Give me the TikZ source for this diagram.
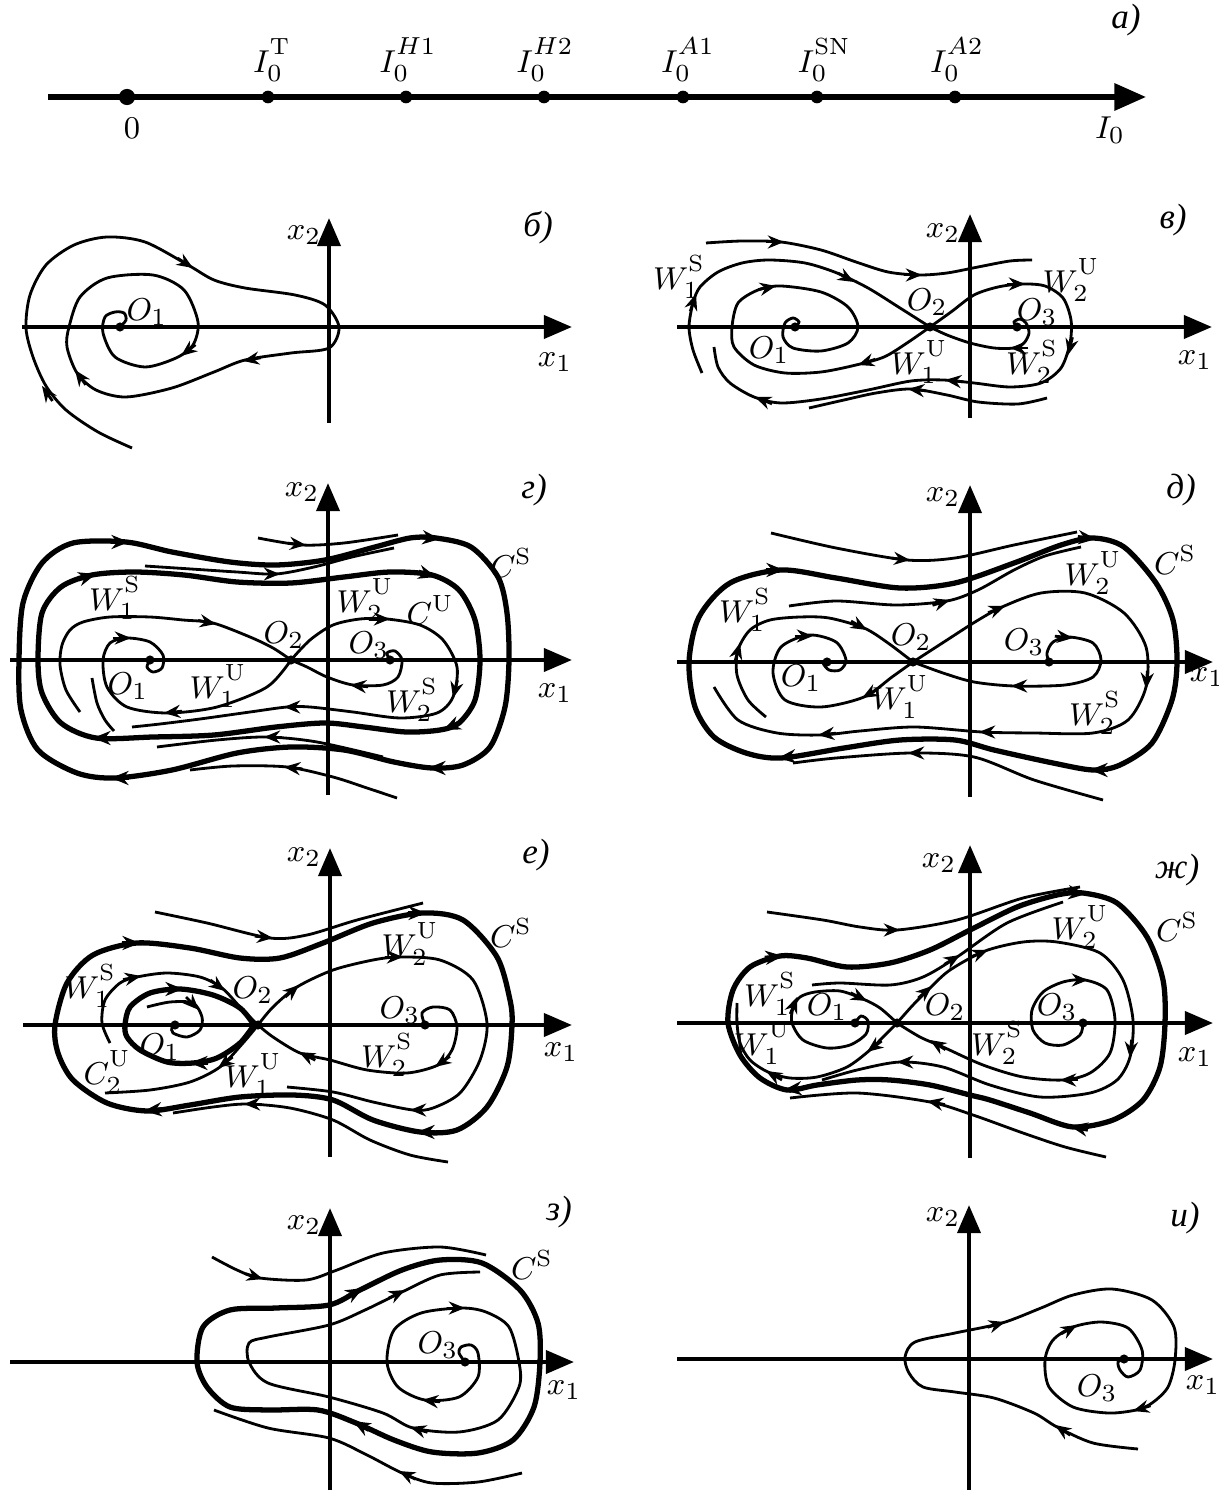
\documentclass[tikz,border=0pt]{standalone}
\usepackage{fontspec}
\newfontfamily\cyrit{Liberation Serif}
\usetikzlibrary{arrows.meta,calc}
\tikzset{
  axisln/.style={line width=1.25pt, -{Triangle[length=8pt,width=6.5pt]}},
  traj/.style={line width=0.8pt},
  limc/.style={line width=1.5pt},
  flowtip/.style={line width=0.8pt, -{Stealth[length=4.6pt,width=3.7pt]}},
  flowtipc/.style={line width=1.2pt, -{Stealth[length=5pt,width=4pt]}},
  eqpt/.style={circle, fill, inner sep=0pt, minimum size=2.6pt},
  lbl/.style={font=\fontsize{9.5}{11}\selectfont, inner sep=0.5pt},
  plbl/.style={font=\cyrit\itshape\fontsize{10}{12}\selectfont, inner sep=0.5pt},
}
% scripts set a little apart, arrow head placed on a curve
\newcommand{\ssup}[1]{\raise1.2pt\hbox{$\scriptstyle #1$}}
\newcommand{\ssub}[1]{\lower1pt\hbox{$\scriptstyle #1$}}
\newcommand{\flowat}[3][flowtip]{\draw[#1] ($(#3)!5.2pt!(#2)$) -- (#3);}
\begin{document}
\begin{tikzpicture}[x=0.01cm, y=-0.01cm]
\useasboundingbox (0,0) rectangle (1218,1492);

% Panel a: parameter axis
\draw[axisln, line width=1.5pt, -{Triangle[length=9pt,width=7.5pt]}] (48,97) -- (1146,97);
\node[eqpt, minimum size=4.6pt] (p0) at (127,97) {};
\foreach \x/\nm in {268/pT, 406/pHa, 544/pHb, 683/pAa, 817/pSN, 955/pAb}
  \node[eqpt, minimum size=3.6pt] (\nm) at (\x,97) {};
\node[lbl, anchor=south] (lT) at (272,84) {$I_{\ssub{0}}^{\ssup{\mathrm{T}}}$};
\node[lbl, anchor=south] (lHa) at (408,84) {$I_{\ssub{0}}^{\ssup{H1}}$};
\node[lbl, anchor=south] (lHb) at (545,84) {$I_{\ssub{0}}^{\ssup{H2}}$};
\node[lbl, anchor=south] (lAa) at (688,84) {$I_{\ssub{0}}^{\ssup{A1}}$};
\node[lbl, anchor=south] (lSN) at (824,84) {$I_{\ssub{0}}^{\ssup{\mathrm{SN}}}$};
\node[lbl, anchor=south] (lAb) at (957,84) {$I_{\ssub{0}}^{\ssup{A2}}$};
\node[lbl] (l0) at (132,128) {$0$};
\node[lbl] (lI) at (1110,130) {$I_0$};
\node[plbl] (la) at (1126,20) {а)};

% Panel b: single stable focus
\draw[axisln] (22,327) -- (572,327);
\draw[axisln] (329,423) -- (329,218);
\draw[traj] plot[smooth] coordinates {(132,448) (98,432) (66,410) (46,386) (33,357) (26,328) (30,295) (46,265) (74,245) (107,237) (145,242) (188,265) (214,280) (245,288) (295,295) (325,305) (339,327) (329,348) (291,353) (245,360) (214,372) (172,388) (126,397) (96,390) (77,373) (67,347) (69,327) (80,297) (107,278) (153,275) (184,290) (198,322) (193,345) (176,358) (145,367) (115,357) (103,333) (105,317) (115,312) (124,313) (126,320) (120,327)};
\flowat{49,396}{42,386}
\flowat{182,261}{193,268}
\flowat{254,359}{243,361}
\flowat{190,349}{181,356}
\flowat{83,381}{75,370}
\node[eqpt] (bO1) at (120,327) {};
\node[lbl] (bx2) at (304,235) {$x_2$};
\node[lbl] (bx1) at (555,362) {$x_1$};
\node[plbl] (bl) at (538,228) {б)};
\node[lbl] (bO1l) at (147,312) {$O_1$};

% Panel v: saddle O2 between two foci
\draw[axisln] (677,327) -- (1212,327);
\draw[axisln] (970,418) -- (970,214);
\draw[traj] plot[smooth] coordinates {(706,243) (742,241) (781,242) (821,250) (856,262) (888,272) (919,275) (947,273) (978,267) (1010,261) (1032,260)};
\draw[traj] plot[smooth] coordinates {(702,373) (693,350) (689,327) (693,303) (700,287) (718,272) (742,263) (769,260) (805,263) (837,273) (868,288) (900,308) (930,327)};
\draw[traj] plot[smooth] coordinates {(930,327) (907,343) (884,357) (856,365) (821,372) (785,373) (754,365) (734,347) (732,327) (738,303) (758,290) (781,286) (821,292) (848,307) (858,327) (848,343) (821,351) (793,348) (783,337) (785,323) (793,318) (799,322) (795,327)};
\draw[traj] plot[smooth] coordinates {(930,327) (951,312) (974,295) (998,287) (1022,284) (1045,286) (1063,298) (1071,320) (1070,343) (1061,368) (1041,383) (1010,387) (974,383) (943,380) (911,381) (868,390) (821,399) (781,403) (754,397) (730,383) (718,367) (714,347)};
\draw[traj] plot[smooth] coordinates {(1047,398) (1018,404) (978,402) (947,395) (911,389) (876,393) (844,400) (809,408)};
\draw[traj] plot[smooth] coordinates {(1017,327) (1014,322) (1020,319) (1026,323) (1029,333) (1024,343) (1014,348) (994,348) (970,343) (947,335) (930,327)};
\flowat{774,242}{784,242}
\flowat{912,275}{922,275}
\flowat{692,306}{696,294}
\flowat{845,277}{854,282}
\flowat{867,362}{858,365}
\flowat{766,288}{776,286}
\flowat{1015,284}{1025,284}
\flowat{1071,343}{1068,355}
\flowat{955,381}{945,380}
\flowat{765,401}{755,397}
\flowat{918,390}{908,389}
\flowat{1020,348}{1010,348}
\node[eqpt] (vO1) at (795,327) {};
\node[eqpt] (vO2) at (930,327) {};
\node[eqpt] (vO3) at (1017,327) {};
\node[lbl] (vx2) at (943,233) {$x_2$};
\node[lbl] (vx1) at (1195,360) {$x_1$};
\node[plbl] (vl) at (1173,220) {в)};
\node[lbl] (vW1S) at (679,277) {$W_{\ssub{1}}^{\ssup{\mathrm{S}}}$};
\node[lbl] (vW2U) at (1071,280) {$W_{\ssub{2}}^{\ssup{\mathrm{U}}}$};
\node[lbl] (vO2l) at (927,302) {$O_2$};
\node[lbl] (vO3l) at (1037,312) {$O_3$};
\node[lbl] (vO1l) at (769,350) {$O_1$};
\node[lbl] (vW1U) at (919,362) {$W_{\ssub{1}}^{\ssup{\mathrm{U}}}$};
\node[lbl] (vW2S) at (1032,362) {$W_{\ssub{2}}^{\ssup{\mathrm{S}}}$};

% Panel g: two limit cycles around the figure eight
\draw[axisln] (10,660) -- (572,660);
\draw[axisln] (328,795) -- (328,483);
\draw[limc] plot[smooth cycle] coordinates {(19,660) (23,603) (42,563) (73,543) (126,542) (172,552) (230,562) (276,565) (325,560) (375,547) (410,538) (436,538) (471,547) (498,577) (507,613) (509,660) (505,707) (490,747) (463,765) (432,768) (394,762) (344,750) (291,747) (237,753) (172,770) (115,778) (77,773) (38,750) (21,710)};
\draw[limc] plot[smooth cycle] coordinates {(38,660) (42,613) (61,587) (92,575) (134,572) (184,575) (237,582) (291,583) (344,577) (390,572) (432,575) (459,590) (475,620) (480,660) (475,700) (459,723) (440,730) (406,732) (364,727) (325,723) (276,727) (214,735) (153,737) (96,738) (61,723) (42,693)};
\draw[traj] plot[smooth] coordinates {(258,538) (302,545) (344,543) (398,535)};
\draw[traj] plot[smooth] coordinates {(145,566) (191,569) (237,572) (276,574) (314,567) (352,557) (394,548)};
\draw[traj] plot[smooth] coordinates {(157,747) (217,740) (267,737) (317,742) (383,757)};
\draw[traj] plot[smooth] coordinates {(190,770) (233,766) (287,767) (333,777) (367,788) (397,798)};
\draw[traj] plot[smooth] coordinates {(80,712) (66,690) (60,665) (62,645) (70,630) (83,622) (110,617) (150,617) (183,620) (213,623) (250,637) (273,648) (291,660)};
\draw[traj] plot[smooth] coordinates {(291,660) (310,640) (333,625) (360,619) (387,619) (420,625) (443,640) (457,667) (453,697) (437,713) (400,718) (353,712) (310,707) (287,707) (250,712) (200,719) (160,724) (132,727)};
\draw[traj] plot[smooth] coordinates {(92,678) (97,703) (105,720) (114,731)};
\draw[traj] plot[smooth] coordinates {(291,660) (267,687) (217,707) (167,713) (127,707) (107,687) (103,660) (110,643) (127,638) (150,642) (163,655) (162,668) (153,672) (147,667) (150,660)};
\draw[traj] plot[smooth] coordinates {(390,660) (387,653) (395,651) (402,660) (398,677) (383,685) (353,685) (327,677) (307,667) (291,660)};
\flowat[flowtipc]{119,542}{129,542}
\flowat[flowtipc]{430,538}{440,539}
\flowat[flowtipc]{438,768}{428,768}
\flowat[flowtipc]{121,778}{111,778}
\flowat[flowtipc]{86,577}{96,574}
\flowat[flowtipc]{426,574}{436,577}
\flowat[flowtipc]{452,726}{443,730}
\flowat[flowtipc]{103,738}{93,738}
\flowat{296,544}{306,545}
\flowat{270,574}{280,574}
\flowat{274,737}{264,737}
\flowat{294,768}{284,767}
\flowat{206,622}{216,624}
\flowat{380,619}{390,619}
\flowat{456,686}{453,698}
\flowat{294,707}{284,707}
\flowat{174,712}{164,713}
\flowat{123,638}{131,638}
\flowat{360,686}{350,685}
\node[eqpt] (gO1) at (150,660) {};
\node[eqpt] (gO2) at (291,660) {};
\node[eqpt] (gO3) at (390,660) {};
\node[lbl] (gx2) at (302,492) {$x_2$};
\node[lbl] (gx1) at (555,693) {$x_1$};
\node[plbl] (gl) at (534,490) {г)};
\node[lbl] (gCS) at (511,563) {$C^{\mathrm{S}}$};
\node[lbl] (gCU) at (430,610) {$C^{\mathrm{U}}$};
\node[lbl] (gW1S) at (115,598) {$W_{\ssub{1}}^{\ssup{\mathrm{S}}}$};
\node[lbl] (gW2U) at (365,600) {$W_{\ssub{2}}^{\ssup{\mathrm{U}}}$};
\node[lbl] (gO2l) at (284,635) {$O_2$};
\node[lbl] (gO3l) at (369,645) {$O_3$};
\node[lbl] (gO1l) at (128,686) {$O_1$};
\node[lbl] (gW1U) at (218,686) {$W_{\ssub{1}}^{\ssup{\mathrm{U}}}$};
\node[lbl] (gW2S) at (412,700) {$W_{\ssub{2}}^{\ssup{\mathrm{S}}}$};

% Panel d: outer cycle only
\draw[axisln] (677,662) -- (1213,662);
\draw[axisln] (970,797) -- (970,485);
\draw[limc] plot[smooth cycle] coordinates {(689,662) (699,617) (730,583) (781,570) (836,578) (900,588) (955,583) (1014,563) (1061,545) (1093,538) (1124,547) (1156,583) (1173,620) (1177,662) (1172,700) (1152,743) (1120,765) (1093,770) (1053,763) (994,750) (955,740) (900,740) (844,748) (781,758) (746,753) (714,737) (695,707)};
\draw[traj] plot[smooth] coordinates {(771,533) (836,548) (907,560) (955,558) (1014,545) (1077,532)};
\draw[traj] plot[smooth] coordinates {(789,606) (836,601) (896,605) (947,601) (978,590) (1014,570) (1045,556) (1081,547)};
\draw[traj] plot[smooth] coordinates {(766,717) (748,700) (737,675) (738,650) (750,630) (770,620) (800,617) (829,618) (864,628) (888,643) (913,662)};
\draw[traj] plot[smooth] coordinates {(913,662) (892,677) (864,697) (821,707) (785,700) (773,673) (781,647) (809,635) (836,642) (846,660) (840,670) (829,670) (823,663) (827,662)};
\draw[traj] plot[smooth] coordinates {(1049,662) (1047,653) (1053,642) (1069,637) (1093,643) (1101,660) (1093,677) (1065,685) (1014,686) (974,682) (943,673) (913,662)};
\draw[traj] plot[smooth] coordinates {(913,662) (947,640) (975,622) (1002,607) (1041,593) (1085,593) (1124,613) (1146,647) (1146,687) (1128,720) (1093,733) (1034,733) (982,732) (915,727) (860,731) (821,735) (777,733) (738,720) (714,687)};
\draw[traj] plot[smooth] coordinates {(793,763) (836,758) (911,753) (974,757) (1034,780) (1103,800)};
\flowat[flowtipc]{774,570}{784,570}
\flowat[flowtipc]{1086,538}{1096,539}
\flowat[flowtipc]{1100,770}{1090,770}
\flowat[flowtipc]{788,757}{778,758}
\flowat{900,559}{910,560}
\flowat{940,603}{950,600}
\flowat{737,654}{740,643}
\flowat{858,625}{867,630}
\flowat{871,693}{862,698}
\flowat{803,636}{813,636}
\flowat{1063,637}{1073,638}
\flowat{1021,686}{1011,686}
\flowat{995,610}{1005,606}
\flowat{1147,676}{1146,689}
\flowat{989,732}{979,732}
\flowat{828,734}{818,735}
\flowat{918,753}{908,753}
\node[eqpt] (dO1) at (827,662) {};
\node[eqpt] (dO2) at (913,662) {};
\node[eqpt] (dO3) at (1049,662) {};
\node[lbl] (dx2) at (943,497) {$x_2$};
\node[lbl] (dx1) at (1207,677) {$x_1$};
\node[plbl] (dl) at (1181,490) {д)};
\node[lbl] (dCS) at (1175,560) {$C^{\mathrm{S}}$};
\node[lbl] (dW2U) at (1093,573) {$W_{\ssub{2}}^{\ssup{\mathrm{U}}}$};
\node[lbl] (dW1S) at (745,610) {$W_{\ssub{1}}^{\ssup{\mathrm{S}}}$};
\node[lbl] (dO2l) at (911,637) {$O_2$};
\node[lbl] (dO3l) at (1024,642) {$O_3$};
\node[lbl] (dO1l) at (801,678) {$O_1$};
\node[lbl] (dW1U) at (900,697) {$W_{\ssub{1}}^{\ssup{\mathrm{U}}}$};
\node[lbl] (dW2S) at (1095,713) {$W_{\ssub{2}}^{\ssup{\mathrm{S}}}$};

% Panel e: unstable cycle round O1
\draw[axisln] (23,1025) -- (572,1025);
\draw[axisln] (330,1157) -- (330,848);
\draw[limc] plot[smooth cycle] coordinates {(55,1025) (67,983) (93,955) (137,943) (190,948) (240,958) (280,958) (323,943) (373,923) (423,913) (463,920) (497,957) (510,1000) (512,1025) (507,1067) (487,1107) (457,1130) (420,1132) (373,1120) (333,1100) (293,1095) (240,1097) (190,1105) (147,1111) (107,1103) (73,1080) (58,1053)};
\draw[limc] plot[smooth] coordinates {(254,1025) (240,1043) (217,1058) (193,1063) (167,1062) (140,1050) (127,1037) (125,1025) (130,1007) (150,993) (180,989) (213,995) (240,1008) (254,1025)};
\draw[traj] plot[smooth] coordinates {(155,912) (207,923) (270,938) (307,935) (357,920) (423,903)};
\draw[traj] plot[smooth] coordinates {(147,1007) (170,1002) (193,1003) (202,1017) (200,1030) (187,1037) (173,1033) (172,1027) (175,1025)};
\draw[traj] plot[smooth] coordinates {(110,1043) (102,1023) (105,1000) (120,983) (137,977) (167,973) (200,977) (222,988) (240,1007) (258,1025)};
\draw[traj] plot[smooth] coordinates {(258,1025) (243,1043) (220,1067) (190,1082) (150,1090) (105,1093)};
\draw[traj] plot[smooth] coordinates {(258,1025) (273,1007) (297,987) (333,970) (373,960) (400,957) (440,960) (473,980) (487,1023) (480,1060) (460,1093) (433,1108) (413,1110) (373,1102) (333,1092) (287,1087)};
\draw[traj] plot[smooth] coordinates {(425,1025) (422,1013) (433,1007) (450,1010) (457,1027) (452,1050) (438,1065) (407,1073) (367,1070) (330,1060) (300,1053) (273,1037) (258,1025)};
\draw[traj] plot[smooth] coordinates {(173,1113) (213,1107) (247,1104) (290,1108) (333,1120) (370,1140) (410,1155) (448,1162)};
\flowat[flowtipc]{130,943}{140,943}
\flowat[flowtipc]{416,913}{426,913}
\flowat[flowtipc]{427,1132}{417,1132}
\flowat[flowtipc]{154,1110}{144,1111}
\flowat[flowtipc]{173,989}{183,989}
\flowat[flowtipc]{200,1063}{190,1063}
\flowat{263,937}{273,938}
\flowat{191,1002}{199,1010}
\flowat{131,978}{141,976}
\flowat{217,985}{225,991}
\flowat{226,1062}{218,1068}
\flowat{291,992}{299,985}
\flowat{393,957}{403,957}
\flowat{420,1110}{410,1110}
\flowat{442,1062}{435,1067}
\flowat{307,1056}{299,1052}
\flowat{254,1104}{244,1104}
\node[eqpt] (eO1) at (175,1025) {};
\node[eqpt] (eO2) at (258,1025) {};
\node[eqpt] (eO3) at (425,1025) {};
\node[lbl] (ex2) at (304,857) {$x_2$};
\node[lbl] (ex1) at (561,1052) {$x_1$};
\node[plbl] (el) at (536,855) {е)};
\node[lbl] (eCS) at (511,933) {$C^{\mathrm{S}}$};
\node[lbl] (eW2U) at (410,944) {$W_{\ssub{2}}^{\ssup{\mathrm{U}}}$};
\node[lbl] (eW1S) at (90,986) {$W_{\ssub{1}}^{\ssup{\mathrm{S}}}$};
\node[lbl] (eO2l) at (253,990) {$O_2$};
\node[lbl] (eO3l) at (400,1010) {$O_3$};
\node[lbl] (eO1l) at (160,1047) {$O_1$};
\node[lbl] (eC2U) at (107,1072) {$C_{\ssub{2}}^{\ssup{\mathrm{U}}}$};
\node[lbl] (eW1U) at (253,1075) {$W_{\ssub{1}}^{\ssup{\mathrm{U}}}$};
\node[lbl] (eW2S) at (387,1055) {$W_{\ssub{2}}^{\ssup{\mathrm{S}}}$};

% Panel zh: O1 unstable, saddle loop gone
\draw[axisln] (677,1023) -- (1213,1023);
\draw[axisln] (970,1158) -- (970,845);
\draw[limc] plot[smooth cycle] coordinates {(728,1023) (733,990) (750,967) (780,956) (807,958) (847,967) (890,963) (930,950) (970,930) (1017,907) (1057,895) (1083,893) (1117,903) (1147,937) (1163,980) (1165,1023) (1160,1067) (1143,1100) (1113,1120) (1073,1127) (1030,1113) (990,1100) (970,1095) (930,1085) (890,1080) (857,1080) (817,1085) (787,1090) (760,1078) (740,1055)};
\draw[traj] plot[smooth] coordinates {(767,912) (823,920) (860,927) (897,930) (957,920) (1023,898) (1080,887)};
\draw[traj] plot[smooth] coordinates {(812,985) (840,983) (890,985) (923,977) (957,957) (1007,923) (1063,902)};
\draw[traj] plot[smooth] coordinates {(855,1023) (861,1016) (868,1021) (866,1034) (850,1045) (827,1048) (803,1040) (792,1023) (793,1008) (800,997) (815,992) (840,991) (863,999) (880,1008) (897,1023)};
\draw[traj] plot[smooth] coordinates {(897,1023) (883,1037) (870,1050) (847,1067) (817,1077) (790,1078) (768,1072) (750,1060) (740,1043) (737,1023) (737,1003)};
\draw[traj] plot[smooth] coordinates {(897,1023) (913,1005) (930,988) (950,970) (985,951) (1023,942) (1057,942) (1100,953) (1123,980) (1133,1020) (1130,1057) (1117,1080) (1090,1093) (1040,1097) (990,1085) (943,1067) (900,1062) (857,1070) (822,1080)};
\draw[traj] plot[smooth] coordinates {(1083,1023) (1080,1035) (1063,1045) (1045,1043) (1033,1030) (1032,1010) (1043,992) (1063,982) (1085,980) (1107,990) (1115,1020) (1110,1053) (1090,1073) (1063,1080) (1023,1077) (983,1065) (943,1047) (920,1037) (897,1023)};
\draw[traj] plot[smooth] coordinates {(790,1098) (857,1093) (930,1102) (973,1115) (1023,1133) (1065,1147) (1106,1157)};
\flowat[flowtipc]{773,957}{783,956}
\flowat[flowtipc]{1076,893}{1086,894}
\flowat[flowtipc]{1080,1128}{1070,1126}
\flowat[flowtipc]{794,1089}{784,1090}
\flowat{890,930}{900,930}
\flowat{950,961}{960,955}
\flowat{793,1007}{797,997}
\flowat{859,997}{867,1001}
\flowat{875,1046}{867,1052}
\flowat{775,1076}{766,1071}
\flowat{924,993}{932,986}
\flowat{978,954}{988,950}
\flowat{1131,1046}{1130,1058}
\flowat{907,1062}{897,1062}
\flowat{1078,980}{1088,980}
\flowat{1070,1080}{1060,1080}
\flowat{938,1045}{930,1040}
\flowat{937,1103}{927,1101}
\node[eqpt] (zO1) at (855,1023) {};
\node[eqpt] (zO2) at (897,1023) {};
\node[eqpt] (zO3) at (1083,1023) {};
\node[lbl] (zx2) at (939,863) {$x_2$};
\node[lbl] (zx1) at (1195,1057) {$x_1$};
\node[plbl] (zl) at (1177,870) {ж)};
\node[lbl] (zCS) at (1177,927) {$C^{\mathrm{S}}$};
\node[lbl] (zW2U) at (1080,927) {$W_{\ssub{2}}^{\ssup{\mathrm{U}}}$};
\node[lbl] (zW1S) at (770,994) {$W_{\ssub{1}}^{\ssup{\mathrm{S}}}$};
\node[lbl] (zO1l) at (827,1007) {$O_1$};
\node[lbl] (zO2l) at (945,1007) {$O_2$};
\node[lbl] (zO3l) at (1057,1007) {$O_3$};
\node[lbl] (zW1U) at (762,1043) {$W_{\ssub{1}}^{\ssup{\mathrm{U}}}$};
\node[lbl] (zW2S) at (997,1043) {$W_{\ssub{2}}^{\ssup{\mathrm{S}}}$};

% Panel z: O3 unstable inside stable cycle
\draw[axisln] (10,1362) -- (574,1362);
\draw[axisln] (330,1490) -- (330,1208);
\draw[limc] plot[smooth cycle] coordinates {(197,1362) (203,1327) (230,1310) (276,1308) (329,1305) (360,1290) (402,1270) (440,1260) (482,1263) (520,1290) (538,1323) (540,1362) (534,1407) (513,1440) (478,1453) (432,1452) (394,1440) (356,1423) (318,1410) (268,1410) (230,1407) (207,1387)};
\draw[traj] plot[smooth] coordinates {(212,1257) (237,1270) (260,1278) (306,1280) (337,1270) (383,1253) (440,1247) (486,1255)};
\draw[traj] plot[smooth] coordinates {(465,1362) (459,1353) (461,1347) (471,1345) (478,1353) (478,1377) (459,1397) (425,1400) (398,1387) (387,1362) (394,1330) (421,1313) (461,1308) (486,1312) (509,1327) (519,1362) (519,1387) (498,1420) (459,1432) (413,1428) (383,1413) (329,1397) (268,1383) (249,1362) (249,1343) (268,1337) (329,1325) (365,1310) (402,1292) (440,1275) (480,1272)};
\draw[traj] plot[smooth] coordinates {(214,1410) (268,1428) (329,1438) (367,1455) (402,1473) (432,1483) (478,1482) (522,1473)};
\flowat[flowtipc]{354,1293}{363,1288}
\flowat[flowtipc]{362,1426}{353,1421}
\flowat{253,1276}{263,1279}
\flowat{432,1401}{422,1400}
\flowat{455,1308}{465,1308}
\flowat{420,1430}{410,1427}
\flowat{395,1295}{405,1290}
\flowat{409,1476}{399,1471}
\node[eqpt] (sO3) at (465,1362) {};
\node[lbl] (sx2) at (304,1225) {$x_2$};
\node[lbl] (sx1) at (564,1390) {$x_1$};
\node[plbl] (sl) at (559,1212) {з)};
\node[lbl] (sCS) at (532,1265) {$C^{\mathrm{S}}$};
\node[lbl] (sO3l) at (438,1345) {$O_3$};

% Panel i: single stable focus O3
\draw[axisln] (677,1359) -- (1213,1359);
\draw[axisln] (969,1490) -- (969,1205);
\draw[traj] plot[smooth] coordinates {(1138,1449) (1093,1443) (1057,1427) (1034,1413) (994,1398) (955,1392) (923,1387) (909,1373) (905,1357) (915,1342) (955,1333) (1002,1323) (1041,1308) (1073,1295) (1112,1289) (1152,1300) (1174,1327) (1175,1360) (1168,1387) (1152,1403) (1136,1410) (1108,1413) (1073,1407) (1049,1387) (1045,1360) (1053,1340) (1073,1327) (1101,1322) (1128,1328) (1142,1350) (1140,1370) (1128,1377) (1120,1370) (1118,1362) (1124,1359)};
\flowat{1064,1431}{1055,1425}
\flowat{995,1325}{1005,1322}
\flowat{1143,1408}{1133,1411}
\flowat{1068,1330}{1077,1325}
\node[eqpt] (iO3) at (1124,1359) {};
\node[lbl] (ix2) at (943,1217) {$x_2$};
\node[lbl] (ix1) at (1203,1385) {$x_1$};
\node[plbl] (il) at (1185,1218) {и)};
\node[lbl] (iO3l) at (1097,1388) {$O_3$};
\end{tikzpicture}
\end{document}
